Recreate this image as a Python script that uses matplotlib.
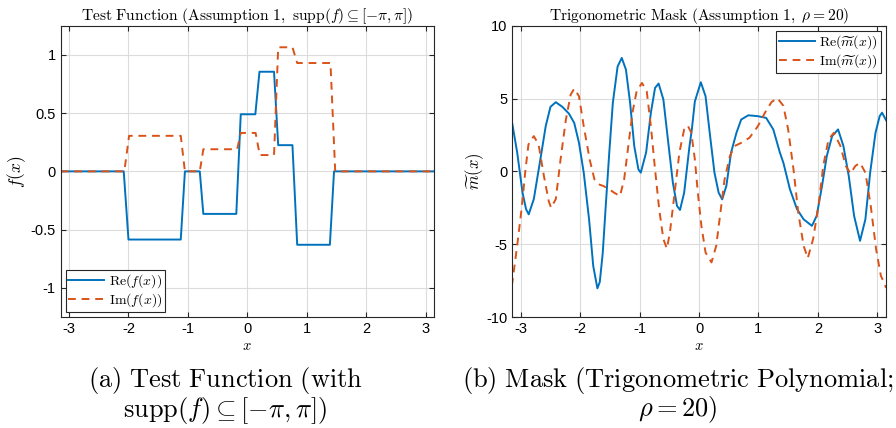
import numpy as np
import matplotlib
matplotlib.use('Agg')
import matplotlib.pyplot as plt

plt.rcParams['mathtext.fontset'] = 'cm'
plt.rcParams['font.family'] = ['Liberation Sans', 'DejaVu Sans']
plt.rcParams['axes.unicode_minus'] = False

# (a) test function, corners of the smoothed step function
re_f_x = [-np.pi, -2.08, -2.00, -1.12, -1.05, -0.80, -0.74, -0.185, -0.11, 0.135, 0.205,
          0.45, 0.52, 0.76, 0.84, 1.39, 1.46, np.pi]
re_f_y = [0, 0, -0.585, -0.585, 0, 0, -0.365, -0.365, 0.49, 0.49, 0.855,
          0.855, 0.225, 0.225, -0.63, -0.63, 0, 0]
im_f_x = [-np.pi, -2.07, -1.99, -1.12, -1.05, -0.80, -0.74, -0.17, -0.11, 0.14, 0.21,
          0.45, 0.52, 0.76, 0.84, 1.40, 1.48, np.pi]
im_f_y = [0, 0, 0.305, 0.305, 0, 0, 0.19, 0.19, 0.33, 0.33, 0.14,
          0.14, 1.065, 1.065, 0.93, 0.93, 0, 0]

# (b) trigonometric mask
re_m_x = [-3.15, -3.06, -2.97, -2.91, -2.866, -2.78, -2.67, -2.58, -2.50, -2.41, -2.30,
          -2.19, -2.10, -2.02, -1.94, -1.85, -1.78, -1.71, -1.67, -1.62, -1.57, -1.51,
          -1.45, -1.37, -1.30, -1.23, -1.16, -1.09, -1.02, -0.98, -0.89, -0.81, -0.74,
          -0.68, -0.60, -0.53, -0.44, -0.37, -0.32, -0.25, -0.16, -0.12, -0.07, 0.03,
          0.11, 0.18, 0.26, 0.33, 0.39, 0.46, 0.54, 0.63, 0.71, 0.83, 0.99, 1.13, 1.25,
          1.36, 1.42, 1.53, 1.65, 1.76, 1.90, 1.98, 2.07, 2.15, 2.24, 2.34, 2.43, 2.52,
          2.61, 2.71, 2.80, 2.88, 2.97, 3.04, 3.08, 3.15]
re_m_y = [3.45, 1.3, -1.46, -2.6, -2.95, -1.9, 0.82, 3.1, 4.43, 4.75, 4.43,
          3.97, 3.33, 1.96, -0.09, -3.3, -6.5, -8.03, -7.6, -5.6, -2.4, 1.3,
          4.72, 7.2, 7.79, 6.99, 4.72, 1.74, 0.14, -0.09, 1.3, 4.03, 5.73,
          6.03, 4.94, 2.42, -0.78, -2.37, -2.65, -1.46, 1.74, 2.9, 4.8, 6.12,
          5.16, 2.65, -0.09, -1.46, -1.92, -1.0, 1.3, 2.65, 3.56, 3.85, 3.79, 3.67, 2.88,
          1.3, 0.59, -1.23, -2.6, -3.29, -3.74, -3.06, -1.0, 1.05, 2.42, 2.88, 1.74, -0.32,
          -3.06, -4.77, -3.29, -0.09, 2.65, 3.79, 4.03, 3.5]
im_m_x = [-3.15, -3.06, -2.98, -2.92, -2.87, -2.78, -2.70, -2.61, -2.53, -2.49, -2.41,
          -2.33, -2.24, -2.16, -2.10, -2.02, -1.94, -1.84, -1.76, -1.69, -1.61, -1.51,
          -1.43, -1.33, -1.26, -1.19, -1.12, -1.05, -0.96, -0.88, -0.81, -0.74, -0.67,
          -0.60, -0.54, -0.49, -0.41, -0.33, -0.25, -0.19, -0.13, -0.07, -0.02, 0.04,
          0.11, 0.21, 0.29, 0.36, 0.43, 0.52, 0.60, 0.71, 0.85, 0.99, 1.11, 1.22, 1.32,
          1.42, 1.50, 1.59, 1.67, 1.76, 1.83, 1.92, 2.01, 2.09, 2.18, 2.27, 2.38, 2.47,
          2.55, 2.63, 2.71, 2.80, 2.89, 2.98, 3.06, 3.15]
im_m_y = [-7.86, -5.1, -2.37, 0.14, 1.85, 2.42, 1.85, -0.32, -2.03, -2.5, -1.9,
          0.82, 3.56, 5.27, 5.68, 5.16, 3.1, 0.82, -0.55, -0.89, -1.0, -1.23,
          -1.46, -1.69, -0.55, 1.74, 4.03, 5.5, 6.07, 5.5, 3.1, 0.14, -2.6,
          -4.65, -5.3, -4.2, -1.46, 1.3, 2.88, 3.15, 2.65, 0.82, -1.46, -3.74,
          -5.57, -6.25, -5.1, -2.83, -0.55, 1.05, 1.74, 1.96, 2.31, 3.1, 4.03, 4.76, 5.03,
          4.5, 2.88, 0.14, -2.83, -5.1, -5.96, -4.65, -2.37, 0.37, 2.2, 2.65, 1.74, 0.37,
          -0.15, 0.37, 0.59, -0.09, -2.37, -5.34, -7.16, -8.0]

blue = '#0072BD'
orange = '#D95319'

fig = plt.figure(figsize=(8.96, 4.28), dpi=100)
ax1 = fig.add_axes([0.0677, 0.2593, 0.4166, 0.6806])
ax2 = fig.add_axes([0.5718, 0.2593, 0.4167, 0.6806])


def style(ax):
    ax.grid(True, color='#dcdcdc', linewidth=0.8)
    ax.set_axisbelow(True)
    ax.tick_params(direction='in', top=True, right=True, labelsize=10.5,
                   color='#262626', length=3.5)
    for s in ax.spines.values():
        s.set_color('#262626')
        s.set_linewidth(0.8)
    ax.set_xlim(-np.pi, np.pi)
    ax.set_xticks([-3, -2, -1, 0, 1, 2, 3])


def legend(ax, loc):
    leg = ax.legend(loc=loc, fontsize=10, fancybox=False, framealpha=1,
                    edgecolor='#262626', borderpad=0.2, handlelength=2.6,
                    handletextpad=0.3, labelspacing=0.1, borderaxespad=0.35)
    leg.get_frame().set_linewidth(0.8)


ax1.plot(re_f_x, re_f_y, color=blue, lw=1.4, label=r'$\mathrm{Re}(f(x))$')
ax1.plot(im_f_x, im_f_y, color=orange, lw=1.4, dashes=(4, 3), label=r'$\mathrm{Im}(f(x))$')
style(ax1)
ax1.set_ylim(-1.25, 1.25)
ax1.set_yticks([-1, -0.5, 0, 0.5, 1])
ax1.set_yticklabels(['-1', '-0.5', '0', '0.5', '1'])
ax1.set_title(r'$\mathrm{Test\ Function\ (Assumption\ 1,\ supp}(f) \subseteq [-\pi,\pi])$',
              fontsize=11.2, pad=4)
ax1.set_xlabel(r'$x$', fontsize=10.5, labelpad=2)
ax1.set_ylabel(r'$f(x)$', fontsize=12.5, labelpad=2)
legend(ax1, 'lower left')

ax2.plot(re_m_x, re_m_y, color=blue, lw=1.4, label=r'$\mathrm{Re}(\widetilde{m}(x))$')
ax2.plot(im_m_x, im_m_y, color=orange, lw=1.4, dashes=(4, 3),
         label=r'$\mathrm{Im}(\widetilde{m}(x))$')
style(ax2)
ax2.set_ylim(-10, 10)
ax2.set_yticks([-10, -5, 0, 5, 10])
ax2.set_title(r'$\mathrm{Trigonometric\ Mask\ (Assumption\ 1,\ }\rho = 20)$',
              fontsize=11.2, pad=4)
ax2.set_xlabel(r'$x$', fontsize=10.5, labelpad=2)
ax2.set_ylabel(r'$\widetilde{m}(x)$', fontsize=12, labelpad=0)
legend(ax2, 'upper right')

fig.text(0.2511, 0.11, r'$\mathrm{(a)\ Test\ Function\ (with}$', ha='center',
         va='center', fontsize=19)
fig.text(0.2511, 0.042, r'$\mathrm{supp}(f) \subseteq [-\pi,\pi])$', ha='center',
         va='center', fontsize=19)
fig.text(0.756, 0.11, r'$\mathrm{(b)\ Mask\ (Trigonometric\ Polynomial;}$', ha='center',
         va='center', fontsize=19)
fig.text(0.756, 0.042, r'$\rho = 20)$', ha='center', va='center', fontsize=19)

fig.savefig('out.png', dpi=100)
